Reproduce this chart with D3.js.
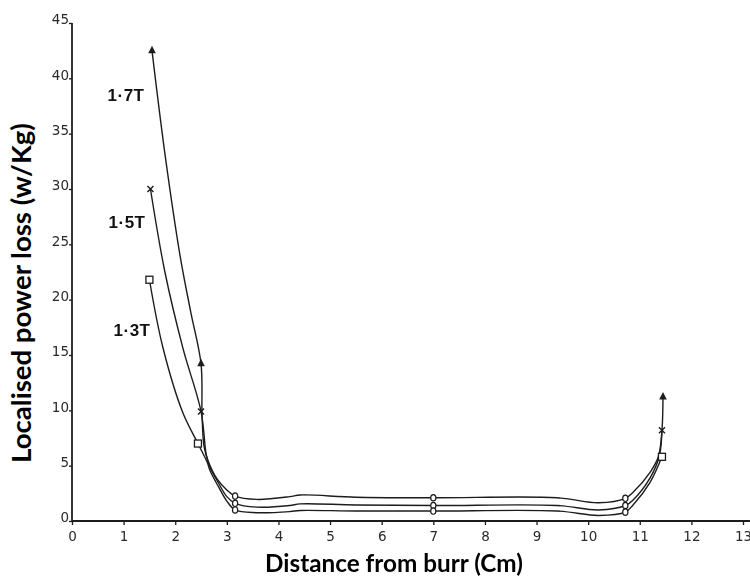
<!DOCTYPE html>
<html><head><meta charset="utf-8">
<script src="https://cdn.jsdelivr.net/npm/d3@7"></script>
<style>body{margin:0;background:#fff}</style>
</head><body><svg id="chart" width="750" height="582"></svg>
<script>
// Axis ticks
const xTicks = d3.range(0, 14);
const yTicks = d3.range(0, 50, 5);

// Localised loss traces along the sheet, one per flux density (x: cm, y: W/kg)
const seriesNames = ["1·7T", "1·5T", "1·3T"];
const trace17 = [[1.55,42.5],[1.8,33.2],[2.1,23.8],[2.3,18.9],[2.5,14.2],[2.52,9.5],[2.56,6.7],[2.64,5.4],[2.81,3.8],[3.0,2.8],[3.16,2.25],[3.58,1.95],[4.22,2.2],[4.42,2.35],[5.5,2.15],[7.0,2.1],[9.4,2.1],[10.2,1.65],[10.72,2.05],[10.87,2.6],[11.2,4.4],[11.36,5.8],[11.43,8.2],[11.45,11.2]];
const trace15 = [[1.52,30],[1.8,22.5],[2.15,15.6],[2.5,9.9],[2.6,6.0],[2.66,5.0],[2.83,3.5],[3.0,2.2],[3.16,1.6],[3.58,1.25],[4.22,1.4],[4.42,1.55],[5.5,1.45],[7.0,1.4],[9.4,1.4],[10.2,1.0],[10.72,1.4],[10.87,1.9],[11.2,3.9],[11.38,5.9],[11.43,8.2]];
const trace13 = [[1.5,21.8],[1.76,15.7],[2.15,9.75],[2.44,7.0],[2.62,5.3],[2.68,4.5],[2.85,3.0],[3.0,1.8],[3.16,1.0],[3.58,0.75],[4.22,0.85],[4.42,0.95],[5.5,0.9],[7.0,0.9],[9.4,0.9],[10.2,0.5],[10.72,0.8],[10.87,1.45],[11.2,3.5],[11.43,5.8]];
// measured points: main symbols and small ring symbols (indices into traces)
const symbolIdx17 = [0, 4, 23], ringIdx17 = [10, 15, 18];
const symbolIdx15 = [0, 3, 20], ringIdx15 = [8, 13, 16];
const symbolIdx13 = [0, 3, 19], ringIdx13 = [8, 13, 16];

const svg = d3.select("#chart");
const x = d3.scaleLinear().domain([0, 13]).range([72, 743]);
const y = d3.scaleLinear().domain([0, 45]).range([521, 23]);
const ink = "#1c1c1c";

const defs = svg.append("defs");
defs.append("filter").attr("id", "soft").append("feGaussianBlur").attr("stdDeviation", 0.35);

const plot = svg.append("g").attr("filter", "url(#soft)");

// axes
const xAxis = d3.axisBottom(x).tickValues(xTicks).tickSize(4).tickSizeOuter(0).tickFormat(d3.format("d"));
const gx = plot.append("g").attr("transform", `translate(0,${y(0)})`).call(xAxis);
gx.select(".domain").remove();
gx.selectAll(".tick line").attr("stroke", ink).attr("stroke-width", 1.3);
gx.selectAll(".tick text").attr("fill", "#2a2a2a").attr("font-family", "DejaVu Sans, sans-serif")
  .attr("font-size", 13.5).attr("dy", "0.95em");
plot.append("line").attr("x1", x(0)).attr("x2", 750).attr("y1", y(0)).attr("y2", y(0))
  .attr("stroke", ink).attr("stroke-width", 1.8);

const yAxis = d3.axisLeft(y).tickValues(yTicks).tickSize(3).tickSizeOuter(0).tickFormat(d3.format("d"));
const gy = plot.append("g").attr("transform", `translate(${x(0)},0)`).call(yAxis);
gy.select(".domain").remove();
gy.selectAll(".tick line").attr("stroke", ink).attr("stroke-width", 1.3);
gy.selectAll(".tick text").attr("fill", "#2a2a2a").attr("font-family", "DejaVu Sans, sans-serif")
  .attr("font-size", 13.5).attr("x", -3).attr("dy", "0.05em");
plot.append("line").attr("x1", x(0)).attr("x2", x(0)).attr("y1", y(0)).attr("y2", y(45))
  .attr("stroke", ink).attr("stroke-width", 1.8);

// curves
const line = d3.line().x(d => x(d[0])).y(d => y(d[1])).curve(d3.curveCatmullRom.alpha(0.5));
const series = [
  {name: seriesNames[0], pts: trace17, sym: symbolIdx17, ring: ringIdx17, shape: "triangle"},
  {name: seriesNames[1], pts: trace15, sym: symbolIdx15, ring: ringIdx15, shape: "cross"},
  {name: seriesNames[2], pts: trace13, sym: symbolIdx13, ring: ringIdx13, shape: "square"}
];
series.forEach(s => {
  plot.append("path").attr("d", line(s.pts)).attr("fill", "none")
    .attr("stroke", ink).attr("stroke-width", 1.4);
  s.ring.forEach(i => {
    const p = s.pts[i];
    plot.append("ellipse").attr("cx", x(p[0])).attr("cy", y(p[1])).attr("rx", 2.6).attr("ry", 3.2)
      .attr("fill", "#fff").attr("stroke", ink).attr("stroke-width", 1.2);
  });
  s.sym.forEach(i => {
    const p = s.pts[i], cx = x(p[0]), cy = y(p[1]);
    if (s.shape === "triangle") {
      plot.append("path").attr("d", `M${cx},${cy-5}L${cx+3.8},${cy+2.5}L${cx-3.8},${cy+2.5}Z`).attr("fill", ink);
    } else if (s.shape === "cross") {
      plot.append("path").attr("d", `M${cx-3},${cy-3}L${cx+3},${cy+3}M${cx+3},${cy-3}L${cx-3},${cy+3}`)
        .attr("stroke", ink).attr("stroke-width", 1.4);
    } else {
      plot.append("rect").attr("x", cx-3.5).attr("y", cy-3.5).attr("width", 7).attr("height", 7)
        .attr("fill", "#fff").attr("stroke", ink).attr("stroke-width", 1.3);
    }
  });
});

// series labels
const labelPos = [[126, 101], [127, 228], [132, 336]];
series.forEach((s, i) => {
  svg.append("text").attr("x", labelPos[i][0]).attr("y", labelPos[i][1]).attr("text-anchor", "middle")
    .attr("font-family", "Liberation Sans, Arial, sans-serif").attr("font-weight", "bold")
    .attr("font-size", 17).attr("letter-spacing", 0.5).attr("fill", "#111").text(s.name);
});

// axis titles
const fitText = (sel, w) => {
  const len = sel.node().getComputedTextLength();
  const fs = parseFloat(sel.attr("font-size"));
  sel.attr("font-size", fs * w / len);
};
const xt = svg.append("text").attr("x", 394).attr("y", 572).attr("text-anchor", "middle")
  .attr("font-family", "Lato, Open Sans, sans-serif").attr("font-weight", "bold").attr("font-size", 17)
  .attr("fill", "#000").text("Distance from burr (Cm)");
fitText(xt, 258);
const yt = svg.append("text").attr("transform", "translate(31,293) rotate(-90)").attr("text-anchor", "middle")
  .attr("font-family", "Lato, Open Sans, sans-serif").attr("font-weight", "bold").attr("font-size", 17)
  .attr("fill", "#000").text("Localised power loss (w/Kg)");
fitText(yt, 340);
</script>
</body></html>
